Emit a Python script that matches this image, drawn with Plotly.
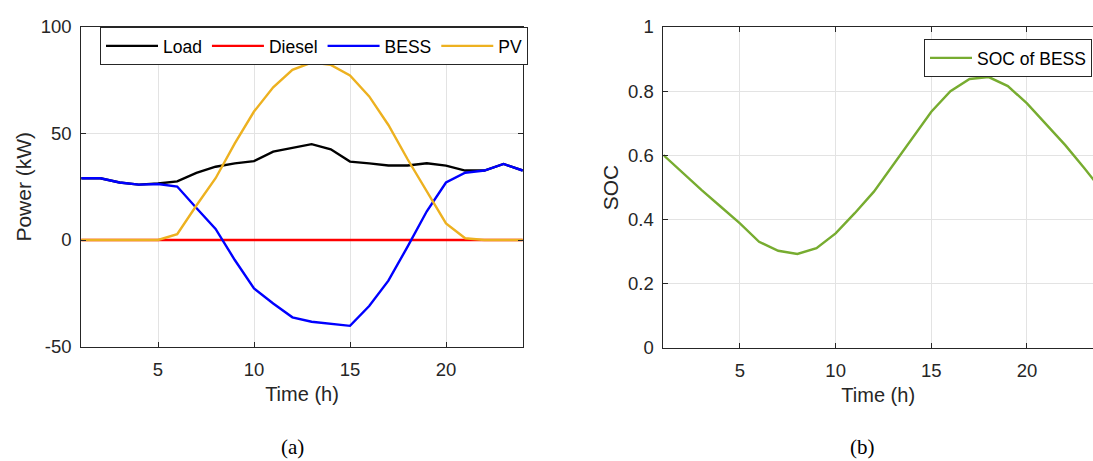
import plotly.graph_objects as go

hours = list(range(1, 25))
load = [29, 29, 27, 26, 26.5, 27.5, 31.5, 34.4, 36, 37, 41.5, 43.4, 45, 42.6, 36.8, 36, 35, 35, 36, 34.9, 32.6, 32.6, 35.7, 32.6]
diesel = [0] * 24
bess = [29, 29, 27, 26, 26.3, 25.1, 15, 5.2, -9.4, -22.7, -29.8, -36.3, -38.4, -39.5, -40.3, -31, -19.1, -3.1, 13.5, 27, 31.6, 32.6, 35.7, 32.6]
pv = [0, 0, 0, 0, 0, 2.7, 16.2, 29, 45.4, 60.3, 71.7, 79.9, 83.3, 82.2, 77.2, 67.4, 54, 37.9, 23, 7.8, 0.8, 0, 0, 0]
soc = [0.601, 0.546, 0.492, 0.44, 0.388, 0.331, 0.303, 0.293, 0.311, 0.357, 0.42, 0.487, 0.57, 0.653, 0.736, 0.80, 0.838, 0.844, 0.816, 0.762, 0.698, 0.632, 0.56, 0.485]

x_ticks = [5, 10, 15, 20]
power_ticks = [-50, 0, 50, 100]
power_tick_labels = ["-50", "0", "50", "100"]
soc_ticks = [0, 0.2, 0.4, 0.6, 0.8, 1]
soc_tick_labels = ["0", "0.2", "0.4", "0.6", "0.8", "1"]

W, H = 1093, 461
FONT = "Liberation Sans, Arial, sans-serif"
SERIF = "Liberation Serif, Times New Roman, serif"
AX = "#262626"
GRID = "#e3e3e3"

fig = go.Figure()
for name, vals, col in [("Load", load, "#000000"), ("Diesel", diesel, "#ff0000"),
                        ("BESS", bess, "#0000ff"), ("PV", pv, "#edb120")]:
    fig.add_trace(go.Scatter(x=hours, y=vals, mode="lines", name=name,
                             line=dict(color=col, width=2.4), xaxis="x", yaxis="y",
                             legend="legend"))
fig.add_trace(go.Scatter(x=hours, y=soc, mode="lines", name="SOC of BESS",
                         line=dict(color="#77ac30", width=2.4), xaxis="x2", yaxis="y2",
                         legend="legend2"))

def px_x(p):
    return p / W

def px_y(p):
    return 1 - p / H

axis_common = dict(showline=True, linecolor=AX, linewidth=1, ticks="inside", ticklen=5,
                   tickcolor=AX, tickwidth=1, showgrid=True, gridcolor=GRID, gridwidth=1,
                   zeroline=False, automargin=False,
                   tickfont=dict(family=FONT, size=18.5, color=AX))

fig.update_layout(
    width=W, height=H, margin=dict(l=0, r=0, t=0, b=0, pad=0, autoexpand=False),
    paper_bgcolor="white", plot_bgcolor="white",
    xaxis=dict(domain=[px_x(81.2), px_x(522.8)], range=[1, 24], tickvals=x_ticks,
               mirror="ticks", anchor="y", ticklabelstandoff=6,
               title=dict(text="Time (h)", font=dict(family=FONT, size=20, color=AX), standoff=8),
               **axis_common),
    yaxis=dict(domain=[px_y(346.5), px_y(27)], range=[-50, 100], tickvals=power_ticks,
               ticktext=power_tick_labels,
               mirror="ticks", anchor="x", ticklabelstandoff=5,
               title=dict(text="Power (kW)", font=dict(family=FONT, size=21, color=AX), standoff=3),
               **axis_common),
    xaxis2=dict(domain=[px_x(663.4), 1.0], range=[1, 23.45], tickvals=x_ticks,
                mirror="ticks", anchor="y2", ticklabelstandoff=6,
                title=dict(text="Time (h)", font=dict(family=FONT, size=20, color=AX), standoff=7),
                **axis_common),
    yaxis2=dict(domain=[px_y(348), px_y(27)], range=[0, 1], tickvals=soc_ticks,
                ticktext=soc_tick_labels,
                mirror=False, anchor="x2", ticklabelstandoff=5,
                title=dict(text="SOC", font=dict(family=FONT, size=21, color=AX), standoff=3),
                **axis_common),
    legend=dict(orientation="h", x=px_x(100), y=px_y(27), xanchor="left", yanchor="top",
                bgcolor="white", bordercolor=AX, borderwidth=1, itemwidth=52,
                font=dict(family=FONT, size=17.5, color="#000000")),
    legend2=dict(x=px_x(1092), y=px_y(39), xanchor="right", yanchor="top",
                 bgcolor="white", bordercolor=AX, borderwidth=1, itemwidth=42,
                 font=dict(family=FONT, size=17.5, color="#000000")),
    showlegend=True,
)

fig.add_annotation(text="(a)", x=px_x(292), y=px_y(447), xref="paper", yref="paper",
                   xanchor="center", yanchor="middle", showarrow=False,
                   font=dict(family=SERIF, size=21, color="#000000"))
fig.add_annotation(text="(b)", x=px_x(862), y=px_y(447), xref="paper", yref="paper",
                   xanchor="center", yanchor="middle", showarrow=False,
                   font=dict(family=SERIF, size=21, color="#000000"))

fig.write_html("out.html")
